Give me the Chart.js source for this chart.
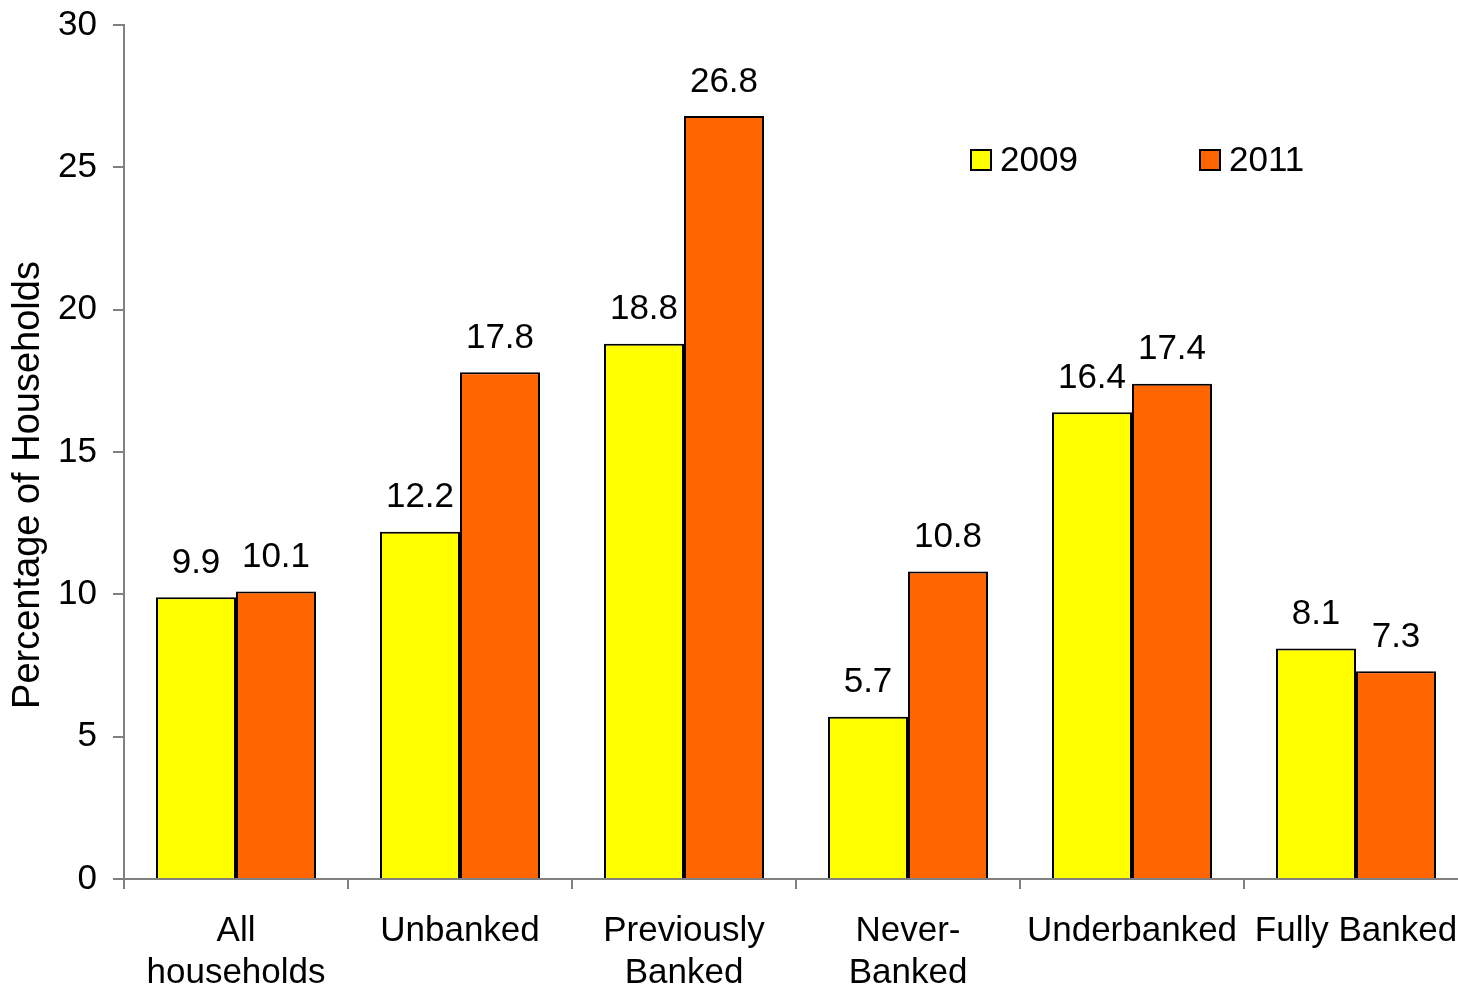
<!DOCTYPE html>
<html>
<head>
<meta charset="utf-8">
<script src="https://cdn.jsdelivr.net/npm/chart.js@4.4.1/dist/chart.umd.min.js"></script>
<style>
  html, body { margin: 0; padding: 0; background: #fff; overflow: hidden; }
  #wrap { position: relative; width: 1480px; height: 987px; }
</style>
</head>
<body>
<div id="wrap"><canvas id="c" width="1480" height="987"></canvas></div>
<script>
const categories = [["All", "households"], "Unbanked", ["Previously", "Banked"], ["Never-", "Banked"], "Underbanked", "Fully Banked"];
const seriesNames = ["2009", "2011"];
const values2009 = [9.9, 12.2, 18.8, 5.7, 16.4, 8.1];
const values2011 = [10.1, 17.8, 26.8, 10.8, 17.4, 7.3];
const yTicks = [0, 5, 10, 15, 20, 25, 30];

const FONT = "'Liberation Sans', Arial, sans-serif";
const FS = 35;

// Value labels above each bar
const valueLabels = {
  id: 'valueLabels',
  afterDatasetsDraw(chart) {
    const ctx = chart.ctx;
    ctx.save();
    ctx.font = FS + 'px ' + FONT;
    ctx.fillStyle = '#000';
    ctx.textAlign = 'center';
    ctx.textBaseline = 'middle';
    chart.data.datasets.forEach((ds, i) => {
      chart.getDatasetMeta(i).data.forEach((bar, j) => {
        ctx.fillText(ds.data[j].toFixed(1), bar.x, bar.y - 34);
      });
    });
    ctx.restore();
  }
};

// Legend boxes and labels inside the plot
const insideLegend = {
  id: 'insideLegend',
  afterDraw(chart) {
    const ctx = chart.ctx;
    const xs = [970, 1199];
    const y = 160;
    ctx.save();
    ctx.font = FS + 'px ' + FONT;
    ctx.textBaseline = 'middle';
    ctx.textAlign = 'left';
    chart.data.datasets.forEach((ds, i) => {
      ctx.fillStyle = ds.backgroundColor;
      ctx.fillRect(xs[i] + 1, y - 10, 20, 20);
      ctx.strokeStyle = '#000';
      ctx.lineWidth = 2;
      ctx.strokeRect(xs[i] + 1, y - 10, 20, 20);
      ctx.fillStyle = '#000';
      ctx.fillText(ds.label, xs[i] + 30, y + 1);
    });
    ctx.restore();
  }
};

// Rotated axis title
const yTitle = {
  id: 'yTitle',
  afterDraw(chart) {
    const ctx = chart.ctx;
    ctx.save();
    ctx.font = '38px ' + FONT;
    ctx.fillStyle = '#000';
    ctx.textAlign = 'center';
    ctx.textBaseline = 'middle';
    ctx.translate(29, 485);
    ctx.rotate(-Math.PI / 2);
    ctx.fillText('Percentage of Households', 0, 0);
    ctx.restore();
  }
};

new Chart(document.getElementById('c'), {
  type: 'bar',
  data: {
    labels: categories,
    datasets: [
      { label: seriesNames[0], data: values2009, backgroundColor: '#FFFF00', borderColor: '#000', borderWidth: 2 },
      { label: seriesNames[1], data: values2011, backgroundColor: '#FF6600', borderColor: '#000', borderWidth: 2 }
    ]
  },
  options: {
    responsive: false,
    animation: false,
    layout: { padding: { left: 0, right: 12, top: 25, bottom: 0 } },
    datasets: { bar: { categoryPercentage: 160 / 224, barPercentage: 1.0 } },
    plugins: { legend: { display: false }, tooltip: { enabled: false } },
    scales: {
      x: {
        grid: { offset: true, drawOnChartArea: false, drawTicks: true, tickLength: 10, color: '#808080', lineWidth: 2 },
        border: { color: '#808080', width: 2 },
        ticks: { color: '#000', font: { family: FONT, size: FS, lineHeight: 1.2 }, padding: 21, maxRotation: 0, autoSkip: false },
        afterFit(scale) { scale.height = 108; scale.paddingLeft = 0; scale.paddingRight = 0; }
      },
      y: {
        min: 0, max: 30,
        afterBuildTicks(scale) { scale.ticks = yTicks.map(v => ({ value: v })); },
        grid: { drawOnChartArea: false, drawTicks: true, tickLength: 11, color: '#808080', lineWidth: 2 },
        border: { color: '#808080', width: 2 },
        ticks: { color: '#000', font: { family: FONT, size: FS }, padding: 16 },
        afterFit(scale) { scale.width = 124; scale.paddingTop = 0; scale.paddingBottom = 0; }
      }
    }
  },
  plugins: [valueLabels, insideLegend, yTitle]
});
</script>
</body>
</html>
